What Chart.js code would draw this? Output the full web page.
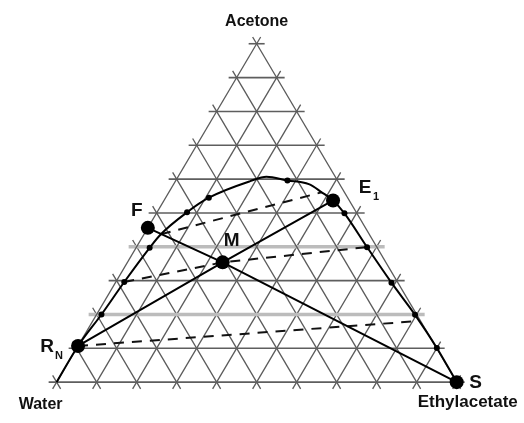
<!DOCTYPE html>
<html>
<head>
<meta charset="utf-8">
<script src="https://cdn.jsdelivr.net/npm/chart.js@4.4.1/dist/chart.umd.min.js"></script>
<style>
  html, body { margin: 0; padding: 0; background: #fff; }
  #wrap { width: 524px; height: 423px; }
</style>
</head>
<body>
<div id="wrap"><canvas id="ternaryChart"></canvas></div>
<script>
// mass fractions, water = 1 - acetone - ethylacetate
// binodal curve, from the water side round to pure ethylacetate
const binodalAcetone = [0.0, 0.107, 0.200, 0.296, 0.397, 0.437, 0.502, 0.545, 0.594, 0.607, 0.596, 0.585, 0.561, 0.537, 0.499, 0.399, 0.294, 0.199, 0.101, 0.0];
const binodalEthyl   = [0.0, 0.0,   0.012, 0.021, 0.034, 0.042, 0.075, 0.108, 0.187, 0.221, 0.279, 0.338, 0.382, 0.4225, 0.470, 0.5765, 0.690, 0.7965, 0.900, 1.0];

// measured equilibrium points on the binodal
const dotAcetone = [0.200, 0.296, 0.397, 0.502, 0.545, 0.596, 0.499, 0.399, 0.294, 0.199, 0.101];
const dotEthyl   = [0.012, 0.021, 0.034, 0.075, 0.108, 0.279, 0.470, 0.5765, 0.690, 0.7965, 0.900];

// feed, mixture, extract, raffinate, solvent
const pointNames   = ['F', 'M', 'E1', 'RN', 'S'];
const pointAcetone = [0.456, 0.354, 0.537, 0.107, 0.0];
const pointEthyl   = [0.0,   0.238, 0.4225, 0.0,  1.0];

// tie lines as [acetone, ethylacetate] pairs
const tieTop = [[0.437, 0.042], [0.561, 0.382]];
const tieMid = [[0.296, 0.021], [0.354, 0.238], [0.399, 0.5765]];
const tieLow = [[0.107, 0.0], [0.180, 0.8078]];

const vertexNames = ['Acetone', 'Water', 'Ethylacetate'];

// ternary -> plane (x along the base, y = acetone)
const toXY = (a, e) => ({ x: e + a / 2, y: a });
const pt = name => {
  const i = pointNames.indexOf(name);
  return toXY(pointAcetone[i], pointEthyl[i]);
};

const datasets = [];

// big markers
datasets.push({
  data: pointAcetone.map((a, i) => toXY(a, pointEthyl[i])),
  pointRadius: 7, pointBackgroundColor: '#000', pointBorderWidth: 0,
  showLine: false
});
// small markers
datasets.push({
  data: dotAcetone.map((a, i) => toXY(a, dotEthyl[i])),
  pointRadius: 3, pointBackgroundColor: '#000', pointBorderWidth: 0,
  showLine: false
});
// binodal (x grows steadily along it, so monotone works)
datasets.push({
  data: binodalAcetone.map((a, i) => toXY(a, binodalEthyl[i])),
  showLine: true, cubicInterpolationMode: 'monotone',
  borderColor: '#000', borderWidth: 2, pointRadius: 0
});
// mixing lines through M
datasets.push({
  data: [pt('F'), pt('M'), pt('S')],
  showLine: true, borderColor: '#000', borderWidth: 2, pointRadius: 0
});
datasets.push({
  data: [pt('RN'), pt('M'), pt('E1')],
  showLine: true, borderColor: '#000', borderWidth: 2, pointRadius: 0
});
// tie lines
[tieTop, tieMid, tieLow].forEach(t => {
  datasets.push({
    data: t.map(p => toXY(p[0], p[1])),
    showLine: true, borderColor: '#111', borderWidth: 2, borderDash: [10, 8], pointRadius: 0
  });
});

// triangular grid, every line runs a little past the edges
const ext = 0.02;
for (let k = 0; k <= 10; k++) {
  const f = k / 10;
  const light = (k === 2 || k === 4);
  datasets.push({
    data: [toXY(f, -ext), toXY(f, 1 - f + ext)],
    showLine: true, pointRadius: 0,
    borderColor: light ? '#bcbcbc' : '#5e5e5e', borderWidth: light ? 3.5 : 1.6
  });
  datasets.push({
    data: [toXY(-ext, f), toXY(1 - f + ext, f)],
    showLine: true, pointRadius: 0, borderColor: '#5a5a5a', borderWidth: 1.3
  });
  datasets.push({
    data: [toXY(-ext, 1 - f + ext), toXY(1 - f + ext, -ext)],
    showLine: true, pointRadius: 0, borderColor: '#5a5a5a', borderWidth: 1.3
  });
}

const labelPlugin = {
  id: 'ternaryLabels',
  afterDatasetsDraw(chart) {
    const { ctx, scales } = chart;
    const px = p => [scales.x.getPixelForValue(p.x), scales.y.getPixelForValue(p.y)];
    ctx.save();
    ctx.fillStyle = '#111';
    ctx.textBaseline = 'middle';

    // corners
    ctx.font = 'bold 16px "Liberation Sans", Arial, sans-serif';
    ctx.textAlign = 'center';
    let [x, y] = px(toXY(1, 0));
    ctx.fillText(vertexNames[0], x, y - 22);
    [x, y] = px(toXY(0, 0));
    ctx.fillText(vertexNames[1], x - 16, y + 22);
    [x, y] = px(toXY(0, 1));
    ctx.textAlign = 'left';
    ctx.font = 'bold 17px "Liberation Sans", Arial, sans-serif';
    ctx.fillText(vertexNames[2], x - 39, y + 20);

    // point letters
    const big = 'bold 19px "Liberation Sans", Arial, sans-serif';
    const sub = 'bold 11px "Liberation Sans", Arial, sans-serif';
    ctx.textAlign = 'center';
    ctx.font = big;
    [x, y] = px(pt('F'));
    ctx.fillText('F', x - 11, y - 17);
    [x, y] = px(pt('M'));
    ctx.fillText('M', x + 9, y - 22);
    [x, y] = px(pt('S'));
    ctx.fillText('S', x + 19, y + 1);
    [x, y] = px(pt('E1'));
    ctx.fillText('E', x + 32, y - 13);
    ctx.font = sub;
    ctx.fillText('1', x + 43, y - 3);
    [x, y] = px(pt('RN'));
    ctx.font = big;
    ctx.fillText('R', x - 31, y + 1);
    ctx.font = sub;
    ctx.fillText('N', x - 19, y + 10);
    ctx.restore();
  }
};

new Chart(document.getElementById('ternaryChart'), {
  type: 'scatter',
  data: { datasets },
  options: {
    responsive: true,
    maintainAspectRatio: false,
    animation: false,
    events: [],
    layout: { padding: 0 },
    plugins: { legend: { display: false }, tooltip: { enabled: false } },
    scales: {
      x: { type: 'linear', display: false, min: -0.12409, max: 1.15085 },
      y: { type: 'linear', display: false, min: -0.1, max: 1.10857 }
    }
  },
  plugins: [labelPlugin]
});
</script>
</body>
</html>
